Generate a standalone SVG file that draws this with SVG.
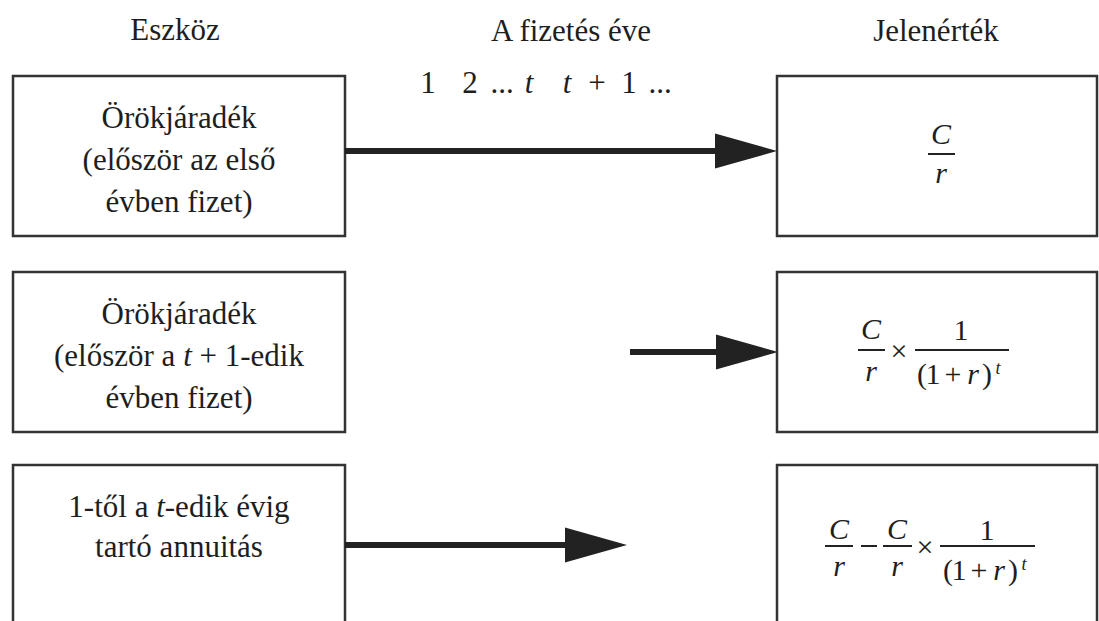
<svg xmlns="http://www.w3.org/2000/svg" width="1099" height="621" viewBox="0 0 1099 621" font-family="'Liberation Serif', 'Times New Roman', serif">
  <defs>
    <marker id="head" markerUnits="userSpaceOnUse" markerWidth="62" markerHeight="36" refX="0" refY="17.5" orient="auto" overflow="visible">
      <path d="M0,0 L62,17.5 L0,35 Z" fill="#222"/>
    </marker>
    <style>
      .box { fill: #fff; stroke: #333; stroke-width: 2.5; }
      .txt { font-family: "Liberation Serif", "Times New Roman", serif; font-size: 31px; fill: #1e1e1e; text-anchor: middle; }
      .math { font-family: "Liberation Serif", "Times New Roman", serif; font-size: 30px; fill: #1e1e1e; text-anchor: middle; }
      .it { font-style: italic; }
      .sup { font-size: 18px; font-style: italic; }
      .bar { stroke: #222; stroke-width: 2; }
      .arrow { stroke: #222; stroke-width: 6; fill: none; marker-end: url(#head); }
    </style>
  </defs>
  <rect width="1099" height="621" fill="#fff"/>

  <!-- column headings -->
  <g id="headings" class="txt">
    <text x="175" y="40">Eszköz</text>
    <text x="571" y="41">A fizetés éve</text>
    <text x="936" y="41">Jelenérték</text>
  </g>

  <!-- payment year axis labels -->
  <g id="years" class="txt">
    <text x="428" y="93">1</text>
    <text x="470" y="93">2</text>
    <text x="502" y="93">...</text>
    <text x="529" y="93" class="it">t</text>
    <text x="567" y="93" class="it">t</text>
    <text x="597" y="93">+</text>
    <text x="629" y="93">1</text>
    <text x="660" y="93">...</text>
  </g>

  <!-- asset boxes -->
  <g id="asset-perpetuity">
    <rect class="box" x="13" y="76" width="332" height="160"/>
    <text class="txt" x="179" y="128">Örökjáradék</text>
    <text class="txt" x="179" y="170">(először az első</text>
    <text class="txt" x="179" y="212">évben fizet)</text>
  </g>
  <g id="asset-deferred-perpetuity">
    <rect class="box" x="13" y="272" width="332" height="160"/>
    <text class="txt" x="179" y="324">Örökjáradék</text>
    <text class="txt" x="179" y="366">(először a <tspan class="it">t</tspan> + 1-edik</text>
    <text class="txt" x="179" y="408">évben fizet)</text>
  </g>
  <g id="asset-annuity">
    <rect class="box" x="13" y="465" width="332" height="180"/>
    <text class="txt" x="179" y="517">1-től a <tspan class="it">t</tspan>-edik évig</text>
    <text class="txt" x="179" y="557">tartó annuitás</text>
  </g>

  <!-- present value boxes -->
  <g id="pv-perpetuity">
    <rect class="box" x="777" y="76" width="320" height="160"/>
    <g class="math it">
      <text x="941" y="144">C</text>
      <text x="941" y="183">r</text>
    </g>
    <line class="bar" x1="928" y1="154" x2="955" y2="154"/>
  </g>
  <g id="pv-deferred-perpetuity">
    <rect class="box" x="777" y="272" width="320" height="160"/>
    <g class="math">
      <text x="871" y="339" class="it">C</text>
      <text x="871" y="381" class="it">r</text>
      <text x="899" y="361">×</text>
      <text x="961" y="340">1</text>
      <text x="922" y="384">(</text>
      <text x="933" y="384">1</text>
      <text x="953" y="384">+</text>
      <text x="973" y="384" class="it">r</text>
      <text x="987" y="384">)</text>
      <text x="998" y="374" class="sup">t</text>
    </g>
    <line class="bar" x1="858" y1="350" x2="885" y2="350"/>
    <line class="bar" x1="915" y1="350" x2="1009" y2="350"/>
  </g>
  <g id="pv-annuity">
    <rect class="box" x="777" y="465" width="320" height="180"/>
    <g class="math">
      <text x="839" y="539" class="it">C</text>
      <text x="839" y="576" class="it">r</text>
      <text x="897" y="539" class="it">C</text>
      <text x="897" y="576" class="it">r</text>
      <text x="925" y="557">×</text>
      <text x="987" y="540">1</text>
      <text x="948" y="580">(</text>
      <text x="959" y="580">1</text>
      <text x="979" y="580">+</text>
      <text x="999" y="580" class="it">r</text>
      <text x="1013" y="580">)</text>
      <text x="1024" y="570" class="sup">t</text>
    </g>
    <line class="bar" x1="825" y1="546" x2="853" y2="546"/>
    <line class="bar" x1="861" y1="546" x2="877" y2="546"/>
    <line class="bar" x1="883" y1="546" x2="912" y2="546"/>
    <line class="bar" x1="940" y1="546" x2="1035" y2="546"/>
  </g>

  <!-- connectors -->
  <g id="connectors">
    <line class="arrow" x1="345" y1="151" x2="715" y2="151"/>
    <line class="arrow" x1="630" y1="352" x2="716" y2="352"/>
    <line class="arrow" x1="345" y1="545" x2="565" y2="545"/>
  </g>
</svg>
